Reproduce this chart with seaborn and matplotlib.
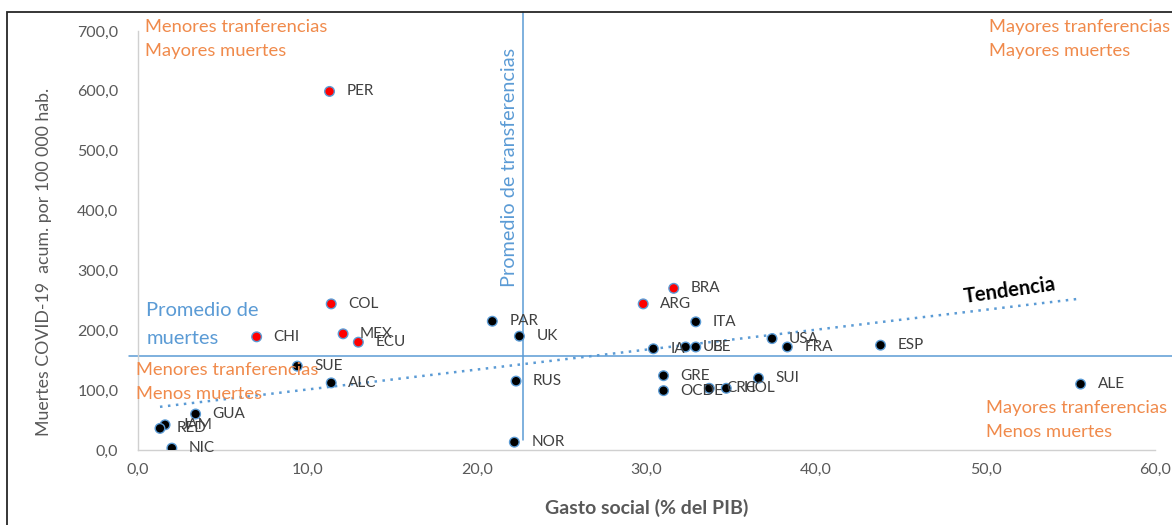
import numpy as np
import pandas as pd
import matplotlib
matplotlib.use("Agg")
import matplotlib.pyplot as plt
import seaborn as sns
from matplotlib.patches import Rectangle

# data
paises = ["PER", "COL", "CHI", "MEX", "ECU", "BRA", "ARG",
          "SUE", "ALC", "GUA", "JAM", "RED", "NIC",
          "PAR", "UK", "RUS", "NOR",
          "ITA", "IA", "UE", "BE", "USA", "FRA", "ESP",
          "GRE", "OCDE", "CRC", "HOL", "SUI", "ALE"]
gasto = [11.3, 11.4, 7.0, 12.1, 13.0, 31.6, 29.8,
         9.4, 11.4, 3.4, 1.6, 1.3, 2.0,
         20.9, 22.5, 22.3, 22.2,
         32.9, 30.4, 32.3, 32.9, 37.4, 38.3, 43.8,
         31.0, 31.0, 33.7, 34.7, 36.6, 55.6]
muertes = [599, 244, 189, 194, 180, 270, 244,
           140, 112, 60, 42, 36, 3,
           215, 190, 115, 13,
           214, 169, 172, 172, 186, 172, 175,
           124, 99, 103, 103, 120, 110]
grupo = ["alto"] * 7 + ["normal"] * 23

prom_gasto = 22.7
prom_muertes = 157

# trend line as drawn in the original (slope, intercept)
tend_pendiente = 3.33
tend_intercepto = 67.7

df = pd.DataFrame({"pais": paises, "gasto": gasto, "muertes": muertes, "grupo": grupo})

sns.set_style("white")
plt.rcParams["font.family"] = ["Lato", "DejaVu Sans"]

fig = plt.figure(figsize=(11.72, 5.25), dpi=100)
ax = fig.add_axes([0.1177, 0.143, 0.868, 0.798])

azul = "#5B9BD5"
naranja = "#F08A4B"
gris = "#595959"

# average lines
ax.plot([prom_gasto, prom_gasto], [17, 732], color=azul, lw=1.1, clip_on=False, zorder=1)
ax.plot([-0.5, 61], [prom_muertes, prom_muertes], color=azul, lw=1.1, clip_on=False, zorder=1)

# trend line
xt = np.array([min(gasto), max(gasto)])
ax.plot(xt, tend_pendiente * xt + tend_intercepto, color=azul, lw=1.8,
        ls=(0, (1, 2.2)), zorder=2)

sns.scatterplot(data=df, x="gasto", y="muertes", hue="grupo",
                palette={"alto": "#FF0000", "normal": "black"},
                s=48, edgecolor=azul, linewidth=1.0, legend=False, ax=ax, zorder=3)

for p, x, y in zip(paises, gasto, muertes):
    ax.text(x + 1.0, y, p, fontsize=11, color="#404040", va="center", ha="left", zorder=4)

# quadrant texts
fs_q = 13.2
ax.text(0.4, 706, "Menores tranferencias", color=naranja, fontsize=fs_q, va="center")
ax.text(0.4, 666, "Mayores muertes", color=naranja, fontsize=fs_q, va="center")
ax.text(50.2, 706, "Mayores tranferencias", color=naranja, fontsize=fs_q, va="center")
ax.text(50.2, 666, "Mayores muertes", color=naranja, fontsize=fs_q, va="center")
ax.text(-0.1, 133, "Menores tranferencias", color=naranja, fontsize=fs_q, va="center")
ax.text(-0.1, 93, "Menos muertes", color=naranja, fontsize=fs_q, va="center")
ax.text(50.0, 70, "Mayores tranferencias", color=naranja, fontsize=fs_q, va="center")
ax.text(50.0, 30, "Menos muertes", color=naranja, fontsize=fs_q, va="center")

ax.text(0.5, 233, "Promedio de", color=azul, fontsize=14.5, va="center")
ax.text(0.5, 187, "muertes", color=azul, fontsize=14.5, va="center")
ax.text(21.9, 472, "Promedio de transferencias", color=azul, fontsize=14.3,
        rotation=90, ha="center", va="center")
ax.text(51.4, 267, "Tendencia", color="black", fontsize=14.5, fontweight="bold",
        rotation=8, ha="center", va="center")

ax.set_xlim(0, 60)
ax.set_ylim(0, 700)
ax.set_xticks(range(0, 61, 10))
ax.set_yticks(range(0, 701, 100))
ax.set_xticklabels([f"{v},0" for v in range(0, 61, 10)], color=gris, fontsize=11.5)
ax.set_yticklabels([f"{v},0" for v in range(0, 701, 100)], color=gris, fontsize=11.5)
ax.tick_params(axis="x", length=0, pad=9)
ax.tick_params(axis="y", length=0, pad=14)

sns.despine(ax=ax)
for s in ["left", "bottom"]:
    ax.spines[s].set_color("#D0D0D0")
    ax.spines[s].set_linewidth(1)

ax.set_xlabel("Gasto social (% del PIB)", fontsize=14, fontweight="bold", color=gris, labelpad=16)
ax.set_ylabel("Muertes COVID-19  acum. por 100 000 hab.", fontsize=12.8, color=gris)
ax.yaxis.set_label_coords(-0.084, 0.45)

# outer chart border
fig.add_artist(Rectangle((0.006, -0.2), 1.2, 1.177, transform=fig.transFigure,
                         fill=False, edgecolor="#262626", lw=1.3))

fig.savefig("out.png", dpi=100)
